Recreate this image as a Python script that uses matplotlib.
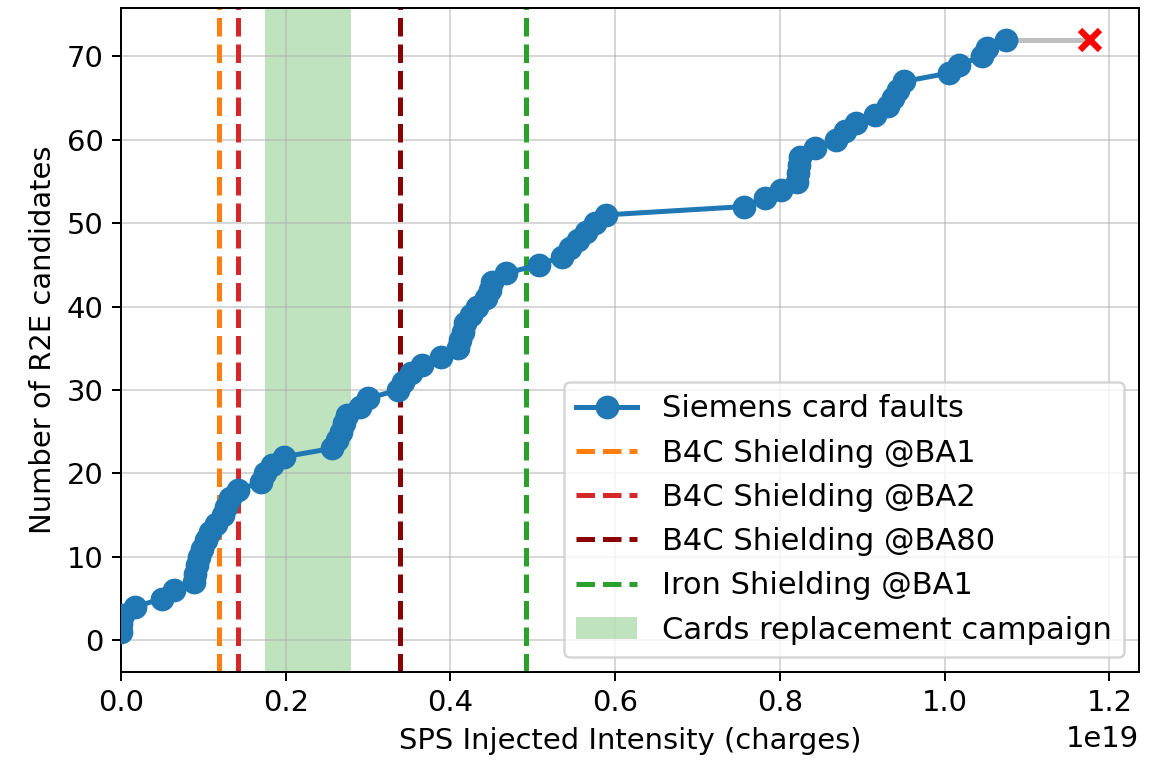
import numpy as np
import matplotlib.pyplot as plt

plt.rcParams['font.size'] = 11.6

# SPS injected intensity (x 1e19 charges) at each Siemens card fault, in order
fault_intensity = [
    0.000, 0.000, 0.002, 0.017, 0.050, 0.064, 0.089, 0.090, 0.092, 0.095,
    0.098, 0.103, 0.108, 0.115, 0.124, 0.128, 0.133, 0.142, 0.170, 0.175,
    0.183, 0.198, 0.256, 0.262, 0.267, 0.271, 0.275, 0.290, 0.300, 0.336,
    0.342, 0.352, 0.365, 0.389, 0.409, 0.412, 0.415, 0.418, 0.425, 0.432,
    0.443, 0.448, 0.450, 0.467, 0.507, 0.535, 0.545, 0.555, 0.565, 0.575,
    0.589, 0.757, 0.782, 0.801, 0.821, 0.822, 0.823, 0.824, 0.843, 0.868,
    0.879, 0.892, 0.916, 0.931, 0.937, 0.943, 0.951, 1.005, 1.018, 1.045,
    1.052, 1.075,
]
fault_count = np.arange(1, len(fault_intensity) + 1)

# current total intensity (no new fault since last one)
current_intensity = 1.177

# shielding installations
shielding_labels = ['B4C Shielding @BA1', 'B4C Shielding @BA2',
                    'B4C Shielding @BA80', 'Iron Shielding @BA1']
shielding_intensity = [0.119, 0.142, 0.339, 0.492]
shielding_colors = ['tab:orange', 'tab:red', 'darkred', 'tab:green']

# cards replacement campaign window
campaign_start, campaign_end = 0.175, 0.279

scale = 1e19
x = np.array(fault_intensity) * scale

fig, ax = plt.subplots(figsize=(6.43, 4.25), dpi=180)
fig.subplots_adjust(left=0.1045, right=0.984, top=0.9895, bottom=0.1216)

ax.plot(x, fault_count, '-o', color='tab:blue', lw=2, ms=8.5,
        label='Siemens card faults', zorder=3)
for lab, xv, c in zip(shielding_labels, shielding_intensity, shielding_colors):
    ax.axvline(xv * scale, color=c, ls='--', lw=2, label=lab)
ax.axvspan(campaign_start * scale, campaign_end * scale, color='tab:green',
           alpha=0.3, lw=0, label='Cards replacement campaign')

ax.plot([x[-1], current_intensity * scale], [fault_count[-1]] * 2,
        color='grey', lw=2, alpha=0.5, zorder=2)
ax.plot(current_intensity * scale, fault_count[-1], 'x', color='red',
        ms=8, mew=2.5, zorder=4)

ax.set_xlim(left=0)
ax.set_ylim(-3.8, 75.8)
ax.grid(True, alpha=0.5)
ax.set_xlabel('SPS Injected Intensity (charges)')
ax.set_ylabel('Number of R2E candidates')
ax.legend(loc='lower right', fontsize=12.2)

fig.savefig('out.png')
